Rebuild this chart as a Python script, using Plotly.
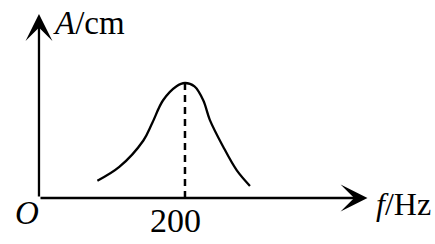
import plotly.graph_objects as go

# Resonance curve data (f in Hz, A in arbitrary cm units)
freq = [80, 110, 143, 155, 170, 188, 200, 213, 225, 234, 252, 271, 289]
amp = [1.5, 2.7, 5.0, 6.5, 8.5, 9.7, 10.0, 9.7, 8.5, 6.8, 4.5, 2.4, 1.05]
peak_f = [200]
peak_a = [10.0]
tick_labels = ["200"]

FONT = "Liberation Serif, Times New Roman, serif"

fig = go.Figure()

fig.add_trace(go.Scatter(
    x=freq, y=amp, mode="lines",
    line=dict(color="black", width=2.3, shape="spline", smoothing=1.0),
    hoverinfo="skip", showlegend=False,
))

fig.add_trace(go.Scatter(
    x=[peak_f[0], peak_f[0]], y=[0, peak_a[0]], mode="lines",
    line=dict(color="black", width=2.5, dash="7px,5px"),
    hoverinfo="skip", showlegend=False,
))

annotations = [
    # x-axis with arrow
    dict(x=450, y=0, ax=0, ay=0, xref="x", yref="y", axref="x", ayref="y",
         text="", showarrow=True, arrowhead=3, arrowsize=1.95, arrowwidth=2.3,
         arrowcolor="black", standoff=0, startstandoff=0),
    # y-axis with arrow
    dict(x=0, y=16, ax=0, ay=0, xref="x", yref="y", axref="x", ayref="y",
         text="", showarrow=True, arrowhead=3, arrowsize=1.95, arrowwidth=2.3,
         arrowcolor="black", standoff=0, startstandoff=0),
    dict(x=16, y=15.2, xref="x", yref="y", text="<i>A</i>/cm", showarrow=False,
         xanchor="left", yanchor="middle", font=dict(family=FONT, size=33, color="black")),
    dict(x=459, y=-0.55, xref="x", yref="y", text="<i>f</i>/Hz", showarrow=False,
         xanchor="left", yanchor="middle", font=dict(family=FONT, size=32, color="black")),
    dict(x=187, y=-1.95, xref="x", yref="y", text=tick_labels[0], showarrow=False,
         xanchor="center", yanchor="middle", font=dict(family=FONT, size=34, color="black")),
    dict(x=-16.5, y=-1.3, xref="x", yref="y", text="<i>O</i>", showarrow=False,
         xanchor="center", yanchor="middle", font=dict(family=FONT, size=33, color="black")),
]

fig.update_layout(
    width=435, height=244,
    margin=dict(l=0, r=0, t=0, b=0),
    paper_bgcolor="white", plot_bgcolor="white",
    xaxis=dict(range=[-53.4, 542.5], visible=False, fixedrange=True),
    yaxis=dict(range=[-4.0, 17.22], visible=False, fixedrange=True),
    annotations=annotations,
    showlegend=False,
)

fig.write_html("out.html")
